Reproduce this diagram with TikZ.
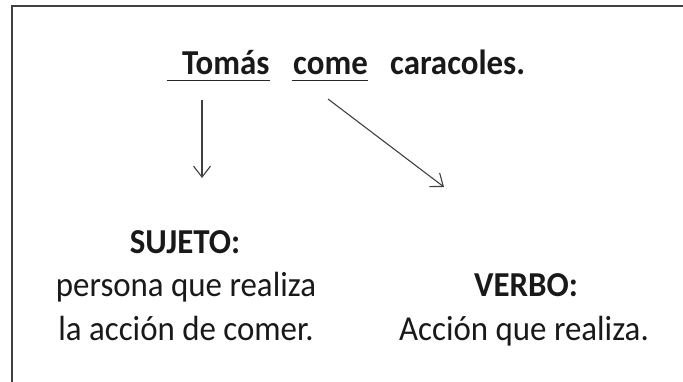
\documentclass[tikz,border=0pt]{standalone}
\usepackage{fontspec}
\setmainfont{Carlito}[FakeStretch=0.94]
\usetikzlibrary{arrows.meta}
\begin{document}
\begin{tikzpicture}[x=1pt,y=-1pt,
  frameline/.style={draw=black!75,line width=2pt},
  word/.style={inner sep=0pt,font=\fontsize{35}{42}\selectfont\bfseries,text=black!90},
  uline/.style={draw=black!85,line width=1.5pt},
  conn/.style={draw=black!75,line width=1.1pt,-{Straight Barb[length=11pt,width=17pt,line width=1.1pt]}},
  label/.style={inner sep=0pt,font=\fontsize{35}{43}\selectfont,text=black!90}]
\useasboundingbox (0,0) rectangle (683,382);
\draw[frameline] (683,6) -- (12,6) -- (12,382);
% sentence
\node[word,anchor=base west] (tomas) at (182,75) {Tomás};
\node[word,anchor=base west] (come) at (293,75) {come};
\node[word,anchor=base west] (caracoles) at (390,75) {caracoles.};
\coordinate (ut1) at (167,80.5);
\coordinate (ut2) at (270,80.5);
\coordinate (uc1) at (292,80.5);
\coordinate (uc2) at (368,80.5);
\draw[uline] (ut1) -- (ut2);
\draw[uline] (uc1) -- (uc2);
% arrow ends
\coordinate (s1) at (202,100);
\coordinate (s2) at (202,178);
\coordinate (v1) at (328,99);
\coordinate (v2) at (444,187);
\draw[conn] (s1) -- (s2);
\draw[conn] (v1) -- (v2);
% labels
\node[label,anchor=base,font=\fontsize{35}{43}\selectfont\bfseries] (sujeto) at (185,254) {SUJETO:};
\node[label,anchor=base] (sujeto1) at (186,297) {persona que realiza};
\node[label,anchor=base] (sujeto2) at (186,340) {la acción de comer.};
\node[label,anchor=base,font=\fontsize{35}{43}\selectfont\bfseries] (verbo) at (526,297) {VERBO:};
\node[label,anchor=base] (verbo1) at (524,340) {Acción que realiza.};
\end{tikzpicture}
\end{document}
